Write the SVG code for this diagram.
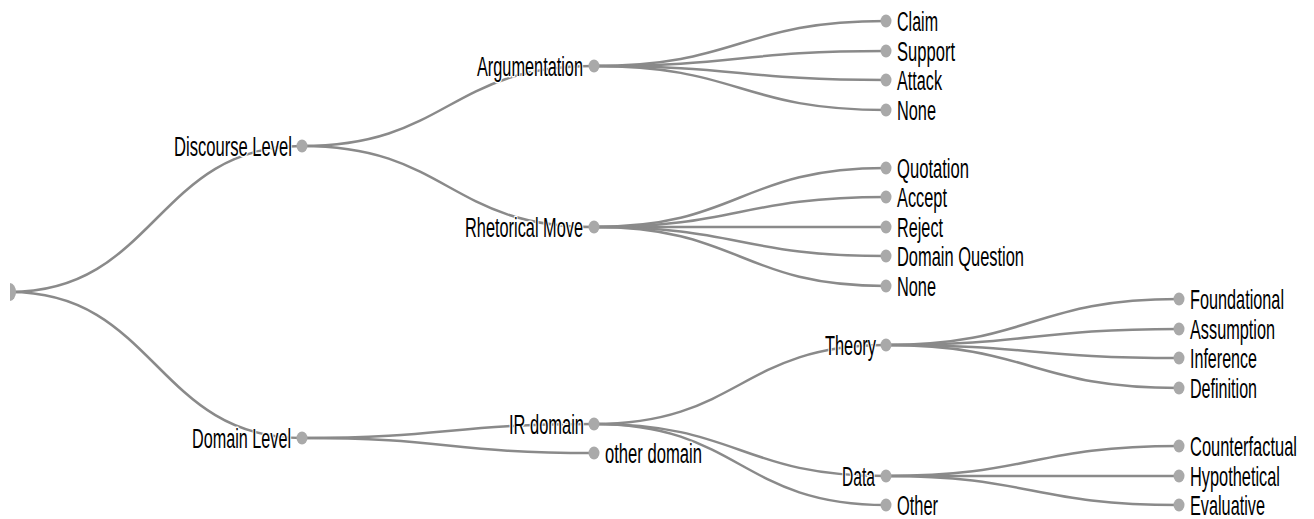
<svg xmlns="http://www.w3.org/2000/svg" width="1314" height="519" viewBox="0 0 1314 519">
<style>
.link{fill:none;stroke:#8a8a8a;stroke-width:2.5}
.node{fill:#a9a9a9}
text{font-family:"Liberation Sans",Arial,sans-serif;font-size:27px;fill:#000;stroke:#fff;stroke-width:3;paint-order:stroke;stroke-linejoin:round}
.l{text-anchor:end}
</style>
<rect width="1314" height="519" fill="#fff"/>
<g id="links">
<path class="link" d="M10,292C156,292 156,146 302,146"/>
<path class="link" d="M10,292C156,292 156,438 302,438"/>
<path class="link" d="M302,146C448,146 448,66 594,66"/>
<path class="link" d="M302,146C448,146 448,227 594,227"/>
<path class="link" d="M302,438C448,438 448,424 594,424"/>
<path class="link" d="M302,438C448,438 448,453 594,453"/>
<path class="link" d="M594,66C740,66 740,21 886,21"/>
<path class="link" d="M594,66C740,66 740,51 886,51"/>
<path class="link" d="M594,66C740,66 740,80 886,80"/>
<path class="link" d="M594,66C740,66 740,110 886,110"/>
<path class="link" d="M594,227C740,227 740,168 886,168"/>
<path class="link" d="M594,227C740,227 740,197 886,197"/>
<path class="link" d="M594,227C740,227 740,227 886,227"/>
<path class="link" d="M594,227C740,227 740,256 886,256"/>
<path class="link" d="M594,227C740,227 740,286 886,286"/>
<path class="link" d="M594,424C740,424 740,345 886,345"/>
<path class="link" d="M594,424C740,424 740,476 886,476"/>
<path class="link" d="M594,424C740,424 740,505 886,505"/>
<path class="link" d="M886,345C1032,345 1032,299 1179,299"/>
<path class="link" d="M886,345C1032,345 1032,329 1179,329"/>
<path class="link" d="M886,345C1032,345 1032,358 1179,358"/>
<path class="link" d="M886,345C1032,345 1032,388 1179,388"/>
<path class="link" d="M886,476C1032,476 1032,446 1179,446"/>
<path class="link" d="M886,476C1032,476 1032,476 1179,476"/>
<path class="link" d="M886,476C1032,476 1032,505 1179,505"/>
</g>
<g id="root"><path class="node" d="M10,283A6,9 0 0 1 10,301Z"/></g>
<g id="discourse"><ellipse class="node" cx="302" cy="146" rx="5.5" ry="6.5"/><text class="l" x="292" y="155.5" textLength="118" lengthAdjust="spacingAndGlyphs">Discourse Level</text></g>
<g id="domain"><ellipse class="node" cx="302" cy="438" rx="5.5" ry="6.5"/><text class="l" x="291" y="447.5" textLength="99" lengthAdjust="spacingAndGlyphs">Domain Level</text></g>
<g id="argumentation"><ellipse class="node" cx="594" cy="66" rx="5.5" ry="6.5"/><text class="l" x="583" y="75.5" textLength="106" lengthAdjust="spacingAndGlyphs">Argumentation</text></g>
<g id="rhetorical"><ellipse class="node" cx="594" cy="227" rx="5.5" ry="6.5"/><text class="l" x="583" y="236.5" textLength="118" lengthAdjust="spacingAndGlyphs">Rhetorical Move</text></g>
<g id="irdomain"><ellipse class="node" cx="594" cy="424" rx="5.5" ry="6.5"/><text class="l" x="584" y="433.5" textLength="75" lengthAdjust="spacingAndGlyphs">IR domain</text></g>
<g id="otherdomain"><ellipse class="node" cx="594" cy="453" rx="5.5" ry="6.5"/><text x="605" y="462.5" textLength="97" lengthAdjust="spacingAndGlyphs">other domain</text></g>
<g id="claim"><ellipse class="node" cx="886" cy="21" rx="5.5" ry="6.5"/><text x="897" y="30.5" textLength="41" lengthAdjust="spacingAndGlyphs">Claim</text></g>
<g id="support"><ellipse class="node" cx="886" cy="51" rx="5.5" ry="6.5"/><text x="897" y="60.5" textLength="58" lengthAdjust="spacingAndGlyphs">Support</text></g>
<g id="attack"><ellipse class="node" cx="886" cy="80" rx="5.5" ry="6.5"/><text x="897" y="89.5" textLength="45" lengthAdjust="spacingAndGlyphs">Attack</text></g>
<g id="none1"><ellipse class="node" cx="886" cy="110" rx="5.5" ry="6.5"/><text x="897" y="119.5" textLength="39" lengthAdjust="spacingAndGlyphs">None</text></g>
<g id="quotation"><ellipse class="node" cx="886" cy="168" rx="5.5" ry="6.5"/><text x="897" y="177.5" textLength="72" lengthAdjust="spacingAndGlyphs">Quotation</text></g>
<g id="accept"><ellipse class="node" cx="886" cy="197" rx="5.5" ry="6.5"/><text x="897" y="206.5" textLength="50" lengthAdjust="spacingAndGlyphs">Accept</text></g>
<g id="reject"><ellipse class="node" cx="886" cy="227" rx="5.5" ry="6.5"/><text x="897" y="236.5" textLength="46" lengthAdjust="spacingAndGlyphs">Reject</text></g>
<g id="domainquestion"><ellipse class="node" cx="886" cy="256" rx="5.5" ry="6.5"/><text x="897" y="265.5" textLength="127" lengthAdjust="spacingAndGlyphs">Domain Question</text></g>
<g id="none2"><ellipse class="node" cx="886" cy="286" rx="5.5" ry="6.5"/><text x="897" y="295.5" textLength="39" lengthAdjust="spacingAndGlyphs">None</text></g>
<g id="theory"><ellipse class="node" cx="886" cy="345" rx="5.5" ry="6.5"/><text class="l" x="876" y="354.5" textLength="51" lengthAdjust="spacingAndGlyphs">Theory</text></g>
<g id="data"><ellipse class="node" cx="886" cy="476" rx="5.5" ry="6.5"/><text class="l" x="875" y="485.5" textLength="33" lengthAdjust="spacingAndGlyphs">Data</text></g>
<g id="other"><ellipse class="node" cx="886" cy="505" rx="5.5" ry="6.5"/><text x="897" y="514.5" textLength="41" lengthAdjust="spacingAndGlyphs">Other</text></g>
<g id="foundational"><ellipse class="node" cx="1179" cy="299" rx="5.5" ry="6.5"/><text transform="translate(1190,308.5) scale(0.6,1)" textLength="156.7" lengthAdjust="spacingAndGlyphs">Foundational</text></g>
<g id="assumption"><ellipse class="node" cx="1179" cy="329" rx="5.5" ry="6.5"/><text transform="translate(1190,338.5) scale(0.6,1)" textLength="141.7" lengthAdjust="spacingAndGlyphs">Assumption</text></g>
<g id="inference"><ellipse class="node" cx="1179" cy="358" rx="5.5" ry="6.5"/><text transform="translate(1190,367.5) scale(0.6,1)" textLength="111.7" lengthAdjust="spacingAndGlyphs">Inference</text></g>
<g id="definition"><ellipse class="node" cx="1179" cy="388" rx="5.5" ry="6.5"/><text transform="translate(1190,397.5) scale(0.6,1)" textLength="111.7" lengthAdjust="spacingAndGlyphs">Definition</text></g>
<g id="counterfactual"><ellipse class="node" cx="1179" cy="446" rx="5.5" ry="6.5"/><text transform="translate(1190,455.5) scale(0.6,1)" textLength="178.3" lengthAdjust="spacingAndGlyphs">Counterfactual</text></g>
<g id="hypothetical"><ellipse class="node" cx="1179" cy="476" rx="5.5" ry="6.5"/><text transform="translate(1190,485.5) scale(0.6,1)" textLength="150" lengthAdjust="spacingAndGlyphs">Hypothetical</text></g>
<g id="evaluative"><ellipse class="node" cx="1179" cy="505" rx="5.5" ry="6.5"/><text transform="translate(1190,514.5) scale(0.6,1)" textLength="125" lengthAdjust="spacingAndGlyphs">Evaluative</text></g>
</svg>
